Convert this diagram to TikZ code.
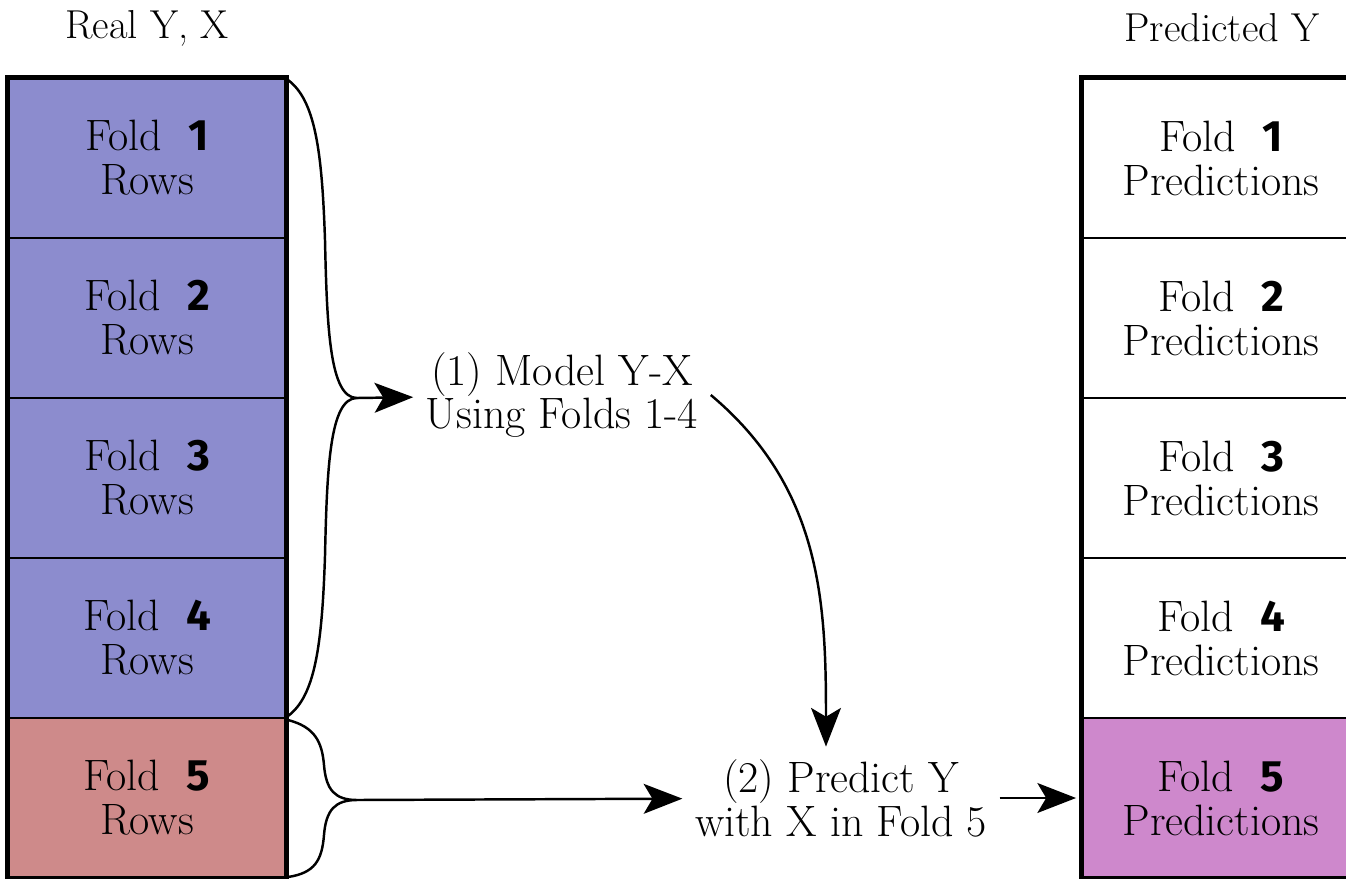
\documentclass[tikz,border=0pt]{standalone}
\usepackage{fontspec}
\newfontfamily\numfont{Fira Sans}
\usetikzlibrary{arrows.meta}
\definecolor{foldblue}{RGB}{140,140,206}
\definecolor{foldred}{RGB}{206,138,138}
\definecolor{foldpink}{RGB}{206,136,204}
\newcommand{\fnum}[1]{\ \ {\numfont\bfseries #1}}

\begin{document}
\begin{tikzpicture}[x=0.02cm,y=-0.02cm]
\tikzset{cell/.style = {shape=rectangle,draw,line width=0.8pt,minimum width=5.56cm,minimum height=3.2cm,inner sep=0pt,align=center,font=\fontsize{25}{25}\selectfont}}
\tikzset{label/.style = {align=center,inner sep=7pt,font=\fontsize{25}{25}\selectfont}}
\tikzset{title/.style = {inner sep=4pt,font=\fontsize{23}{25}\selectfont}}
\tikzset{edge/.style = {-{Stealth[length=22pt,width=17pt,inset=5pt]},line width=1.4pt}}
\tikzset{brace/.style = {line width=1.4pt}}
\useasboundingbox (0,0) rectangle (1346,879);
\clip (0,0) rectangle (1346,879);
\node[title](realtitle) at (147,28) {Real Y, X};
\node[title](predtitle) at (1222,28) {Predicted Y};
\node[cell,fill=foldblue](r1) at (147,158) {Fold\fnum{1}\\Rows};
\node[cell,fill=foldblue](r2) at (147,318) {Fold\fnum{2}\\Rows};
\node[cell,fill=foldblue](r3) at (147,478) {Fold\fnum{3}\\Rows};
\node[cell,fill=foldblue](r4) at (147,638) {Fold\fnum{4}\\Rows};
\node[cell,fill=foldred](r5) at (147,798) {Fold\fnum{5}\\Rows};
\node[cell](p1) at (1221,158) {Fold\fnum{1}\\Predictions};
\node[cell](p2) at (1221,318) {Fold\fnum{2}\\Predictions};
\node[cell](p3) at (1221,478) {Fold\fnum{3}\\Predictions};
\node[cell](p4) at (1221,638) {Fold\fnum{4}\\Predictions};
\node[cell,fill=foldpink](p5) at (1221,798) {Fold\fnum{5}\\Predictions};
\draw[line width=2.8pt] (r1.north west) rectangle (r5.south east);
\draw[line width=2.8pt] (p1.north west) rectangle (p5.south east);
\node[label](model) at (562,395) {(1) Model Y-X\\Using Folds 1-4};
\node[label](predict) at (841,798) {(2) Predict Y\\with X in Fold 5};
% braces
\coordinate (tipA) at (357,398);
\coordinate (tipB) at (357,800);
\draw[brace] (288,80) .. controls (315,100) and (322,150) .. (325,240)
  .. controls (327,330) and (330,398) .. (tipA)
  .. controls (330,398) and (327,466) .. (325,556)
  .. controls (322,646) and (315,696) .. (288,716);
\draw[brace] (288,720) .. controls (315,727) and (322,742) .. (324,765)
  .. controls (326,790) and (335,800) .. (tipB)
  .. controls (335,800) and (326,810) .. (324,835)
  .. controls (322,860) and (315,873) .. (288,877);
\draw[edge] (tipA) -- (model);
\draw[edge] (tipB) -- (predict);
\draw[edge] (model.east) to[out=-40,in=90] ([xshift=-0.3cm]predict.north);
\draw[edge,shorten >=3pt] (predict) -- (p5);
\end{tikzpicture}
\end{document}
